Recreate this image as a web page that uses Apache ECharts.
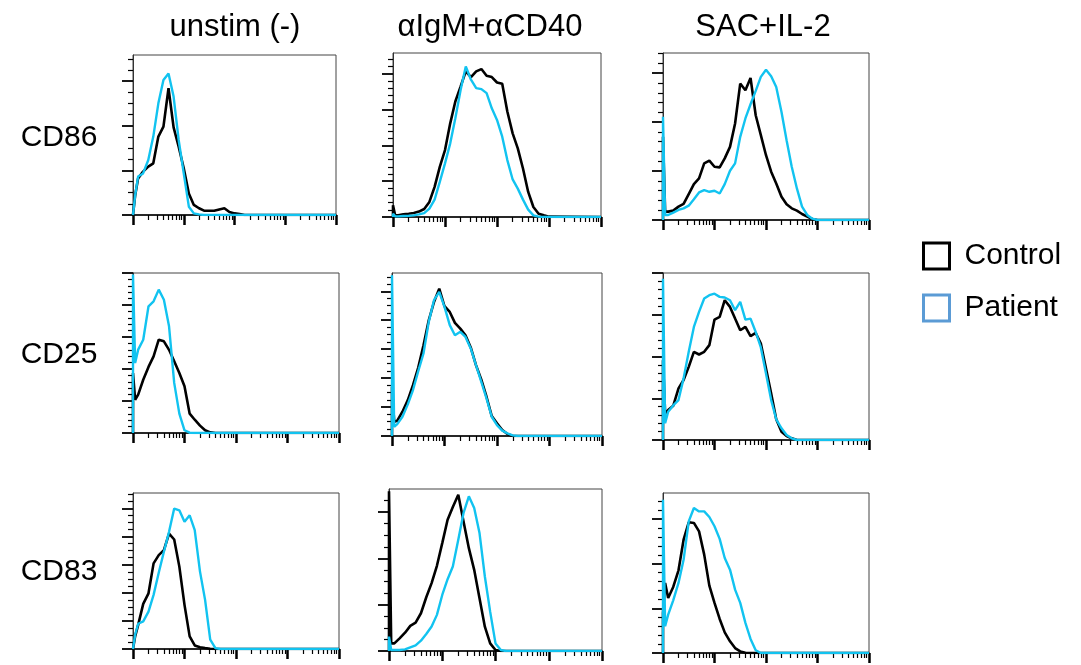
<!DOCTYPE html>
<html lang="en">
<head>
<meta charset="UTF-8">
<title>CD86 / CD25 / CD83 histograms</title>
<script src="https://cdn.jsdelivr.net/npm/echarts@6/dist/echarts.min.js"></script>
<style>
    html, body { margin: 0; padding: 0; background: #fff; }
    #chart { width: 1081px; height: 665px; }
</style>
</head>
<body>
<div id="chart"></div>
<script>
    var stims = ['unstim (-)', 'αIgM+αCD40', 'SAC+IL-2'];
    var markers = ['CD86', 'CD25', 'CD83'];

    // fluorescence bins (log axis 10^0 .. 10^4), first bin repeated for the edge spike
    var fl = [1, 1, 1.1, 1.26, 1.58, 2, 2.51, 3.16, 3.98, 5.01, 6.31, 7.94, 10, 12.6, 15.8, 20, 25.1, 31.6,
        39.8, 50.1, 63.1, 79.4, 100, 126, 158, 200, 251, 316, 398, 501, 631, 794, 1000, 10000];

    // % of max, one list per stimulus: unstim, aIgM+aCD40, SAC+IL-2
    var ctrlCD86 = [
        [0, 1, 12, 22.9, 27.1, 30.2, 32.3, 49, 55.2, 79.2, 54.8, 42.7, 29.2, 13.5, 6.3, 4.2, 2.7, 2.7, 2.7, 3.5, 4.2, 1.9, 1, 0.6, 0, 0, 0, 0, 0, 0, 0, 0, 0, 0],
        [0, 7.1, 1, 1, 1.6, 2, 2.4, 3.3, 4.9, 9.2, 18.4, 30.6, 40.8, 57.1, 70.4, 79.6, 88.8, 85.3, 88.8, 90.2, 86.1, 85.3, 82, 81.2, 64.3, 51, 41.8, 29.6, 15.3, 6.1, 2, 1, 0.2, 0],
        [0, 49.8, 5, 5, 5.6, 8, 9.6, 15.5, 21.5, 24.9, 33.9, 35.5, 31.9, 31.5, 36.9, 43.8, 57.8, 81.7, 77.7, 85, 62.7, 50.8, 38.8, 28.9, 21.9, 13.9, 9.4, 7, 5.6, 3.6, 2, 0.6, 0, 0]
    ];
    var patCD86 = [
        [0, 1, 12, 24, 26, 34.4, 49, 69.8, 84.4, 88.5, 74, 46.9, 26, 5.2, 1, 0.4, 0, 0, 0, 0, 0, 0, 0, 0, 0, 0, 0, 0, 0, 0, 0, 0, 0, 0],
        [0, 2, 0.4, 0.4, 0.6, 0.8, 1, 1.6, 2.4, 5.1, 10.6, 21.4, 32.7, 44.9, 60.2, 77.6, 91.8, 83.7, 78.6, 78, 75.5, 66.3, 59.2, 49, 34.7, 22.9, 17.3, 10.6, 4.5, 1, 0.2, 0, 0, 0],
        [0, 61.8, 3, 3, 4.4, 6, 7, 8.6, 12.4, 16.5, 17.9, 16.9, 17.5, 15.9, 21.5, 29.5, 33.9, 49.8, 60.8, 69.3, 77.3, 85.7, 90, 86.1, 79.7, 64.7, 47.8, 31.9, 18.9, 8, 3, 0.8, 0, 0]
    ];
    var ctrlCD25 = [
        [0, 37.5, 20.8, 24, 33.3, 41.3, 47.9, 58.3, 57.3, 52, 44.8, 37.5, 29.2, 12.1, 8.3, 4.6, 1.7, 0.4, 0, 0, 0, 0, 0, 0, 0, 0, 0, 0, 0, 0, 0, 0, 0, 0],
        [0, 30.2, 8.8, 9.4, 14.9, 22, 31.2, 42, 55.7, 71, 82.2, 90.4, 79.6, 76.1, 69.4, 65.9, 61.8, 54.3, 43.5, 34.7, 24.1, 12.2, 7.8, 3.7, 1.2, 0, 0, 0, 0, 0, 0, 0, 0, 0],
        [0, 47.8, 15.9, 17.9, 20.5, 30.9, 35.9, 43.8, 52.8, 51.2, 52.8, 56.8, 72.1, 73.7, 83.7, 79.7, 72.7, 65.7, 67.7, 62.2, 64.1, 57.8, 42.8, 27.9, 12.4, 5, 2.4, 1, 0, 0, 0, 0, 0, 0]
    ];
    var patCD25 = [
        [0, 99, 43.8, 52.1, 58.3, 79.2, 82.3, 89.6, 83.3, 66.7, 31.3, 12.1, 1.7, 0.2, 0, 0, 0, 0, 0, 0, 0, 0, 0, 0, 0, 0, 0, 0, 0, 0, 0, 0, 0, 0],
        [0, 98.6, 5.7, 7.3, 11.8, 19.4, 28.2, 39.8, 50.6, 70, 83.3, 88.4, 79.2, 68, 61.8, 63.9, 60.8, 53.7, 43.5, 33.3, 23.1, 11.8, 6.7, 3.3, 1.6, 0.4, 0, 0, 0, 0, 0, 0, 0, 0],
        [0, 96.6, 10, 16.9, 20.7, 23.9, 36.9, 52.8, 67.7, 76.7, 84.7, 86.7, 87.6, 85.7, 85.3, 83.7, 77.7, 82.7, 72.1, 72.7, 64.7, 55.4, 39.8, 23.9, 12.4, 7, 3, 1, 0, 0, 0, 0, 0, 0]
    ];
    var ctrlCD83 = [
        [0, 0.6, 8.1, 15.5, 28.9, 35.7, 54.9, 60.2, 63.4, 74, 70.2, 52.8, 28.3, 8.1, 2.3, 1.1, 0.6, 0.2, 0, 0, 0, 0, 0, 0, 0, 0, 0, 0, 0, 0, 0, 0, 0, 0],
        [0, 98.6, 4.7, 4.7, 7.8, 11.3, 15.5, 17.5, 23.3, 33.2, 41.9, 52.6, 66.6, 81, 88.9, 96.5, 80, 63.5, 50.1, 32.6, 15, 4.7, 0.6, 0, 0, 0, 0, 0, 0, 0, 0, 0, 0, 0],
        [0, 25, 43.8, 34.4, 41.3, 51.7, 70.8, 81.7, 81.3, 76, 61.5, 42.1, 31.3, 21.3, 12.9, 7.3, 3.1, 1, 0.2, 0, 0, 0, 0, 0, 0, 0, 0, 0, 0, 0, 0, 0, 0, 0]
    ];
    var patCD83 = [
        [0, 0.6, 9.1, 16.2, 17.7, 24, 34.7, 48.9, 62.3, 75.1, 90, 88.9, 81.5, 85.7, 76.2, 49.6, 31.5, 6, 0.6, 0, 0, 0, 0, 0, 0, 0, 0, 0, 0, 0, 0, 0, 0, 0],
        [0, 8.9, 0.6, 0.6, 0.6, 1, 2.3, 3.5, 6.4, 10.5, 15.1, 22.3, 34.6, 44.3, 52.2, 68.7, 85.2, 95.5, 88.2, 72.8, 46, 24.3, 4.7, 0.6, 0, 0, 0, 0, 0, 0, 0, 0, 0, 0],
        [0, 95.8, 16.7, 24, 32.9, 43.8, 58.3, 82.3, 90.6, 88.5, 88.5, 85, 79.2, 71.3, 59.4, 52.1, 39.6, 31.3, 18.8, 8.8, 1.7, 0, 0, 0, 0, 0, 0, 0, 0, 0, 0, 0, 0, 0]
    ];

    // y tick spacing (in % of max) and minor ticks per step, per panel
    var yStep = [[27.9, 21.85, 29.3], [20, 17.76, 25], [18, 28.6, 27.9]];
    var yMinor = [[4, 5, 5], [5, 4, 5], [4, 4, 5]];

    var control = [ctrlCD86, ctrlCD25, ctrlCD83];
    var patient = [patCD86, patCD25, patCD83];

    // panel boxes [left, top, width, height]
    var boxes = [
        [[133, 55, 203, 160], [393, 53, 208, 164], [663, 53, 206, 167]],
        [[133, 273, 206, 160], [392, 273, 210, 163], [663, 273, 206, 167]],
        [[133, 493, 206, 156], [389, 489, 213, 162], [663, 493, 206, 160]]
    ];

    var black = '#000';
    var cyan = '#12c3f0';
    var font = '"Liberation Sans", Arial, sans-serif';

    function pairs(ys) {
        return fl.map(function (x, j) { return [x, ys[j]]; });
    }

    var grids = [], xAxes = [], yAxes = [], series = [], texts = [];
    for (var r = 0; r < 3; r++) {
        for (var c = 0; c < 3; c++) {
            var i = grids.length;
            var b = boxes[r][c];
            grids.push({
                left: b[0], top: b[1], width: b[2], height: b[3],
                show: true, borderColor: '#444', borderWidth: 1
            });
            xAxes.push({
                type: 'log', logBase: 10, min: 1, max: 10000, gridIndex: i,
                axisLine: {show: true, lineStyle: {color: black, width: 1.5}},
                axisTick: {show: true, length: 10, lineStyle: {color: black, width: 2.5}},
                minorTick: {show: true, splitNumber: 9, length: 5, lineStyle: {color: black, width: 1.2}},
                axisLabel: {show: false},
                splitLine: {show: false}
            });
            var majors = [];
            for (var v = 0; v < 100.5; v += yStep[r][c]) majors.push(+v.toFixed(2));
            yAxes.push({
                type: 'value', min: 0, max: 100, interval: yStep[r][c], gridIndex: i,
                axisLine: {show: true, lineStyle: {color: '#333', width: 1}},
                axisTick: {show: true, length: 11, lineStyle: {color: black, width: 1.8}, customValues: majors},
                minorTick: {show: true, splitNumber: yMinor[r][c], length: 5, lineStyle: {color: black, width: 1.2}},
                axisLabel: {show: false},
                splitLine: {show: false}
            });
            series.push({
                name: 'Control', type: 'line', xAxisIndex: i, yAxisIndex: i,
                data: pairs(control[r][c]), showSymbol: false, z: 3,
                lineStyle: {color: black, width: 2.6}, itemStyle: {color: black}
            });
            series.push({
                name: 'Patient', type: 'line', xAxisIndex: i, yAxisIndex: i,
                data: pairs(patient[r][c]), showSymbol: false, z: 4,
                lineStyle: {color: cyan, width: 2.4}, itemStyle: {color: cyan}
            });
        }
    }

    var colCenter = [235, 490, 763];
    stims.forEach(function (s, c) {
        texts.push({type: 'text', x: colCenter[c], y: 27,
            style: {text: s, font: '31px ' + font, fill: black, align: 'center', verticalAlign: 'middle'}});
    });
    var rowCenter = [138, 355, 572];
    markers.forEach(function (m, r) {
        texts.push({type: 'text', x: 59, y: rowCenter[r],
            style: {text: m, font: '30px ' + font, fill: black, align: 'center', verticalAlign: 'middle'}});
    });

    var chart = echarts.init(document.getElementById('chart'));
    chart.setOption({
        animation: false,
        backgroundColor: '#fff',
        grid: grids,
        xAxis: xAxes,
        yAxis: yAxes,
        series: series,
        graphic: texts,
        legend: {
            orient: 'vertical', left: 917, top: 236,
            itemWidth: 26, itemHeight: 26, itemGap: 22,
            textStyle: {fontSize: 30, color: black, fontFamily: font, padding: [0, 0, 0, 10]},
            data: [
                {name: 'Control', icon: 'rect', itemStyle: {color: '#fff', borderColor: black, borderWidth: 3}},
                {name: 'Patient', icon: 'rect', itemStyle: {color: '#fff', borderColor: '#5b9bd5', borderWidth: 3}}
            ]
        }
    });
</script>
</body>
</html>
